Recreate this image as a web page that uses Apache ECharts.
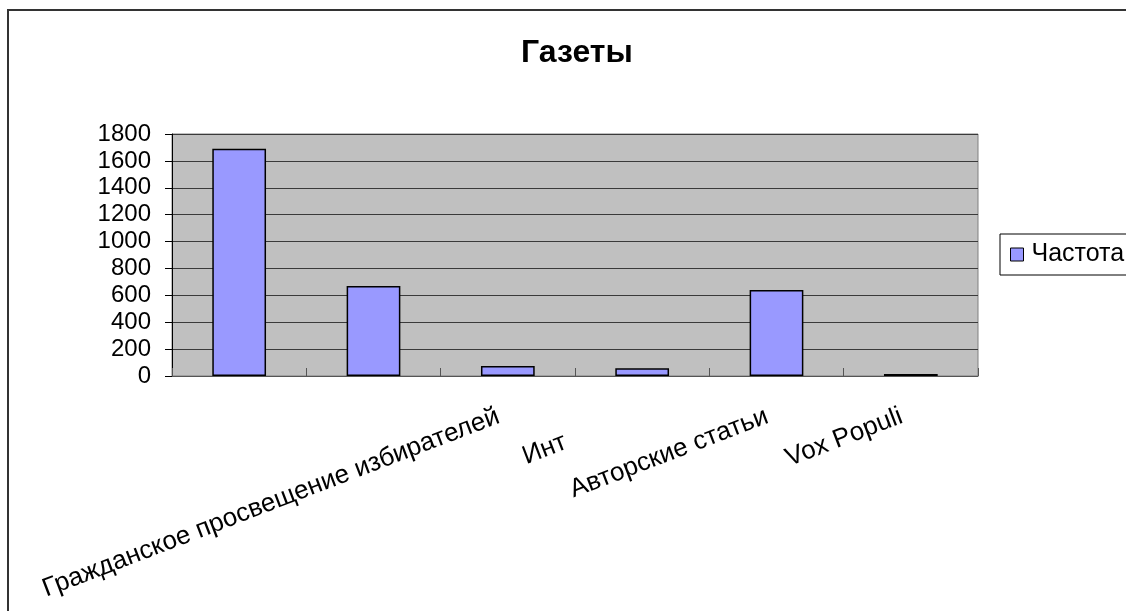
<!DOCTYPE html>
<html>
<head>
<meta charset="utf-8">
<script src="https://cdn.jsdelivr.net/npm/echarts@6/dist/echarts.min.js"></script>
<style>
  html, body { margin: 0; padding: 0; background: #fff; }
  #chart { width: 1126px; height: 611px; }
</style>
</head>
<body>
<div id="chart"></div>
<script>
// Newspaper rubrics and how often each appears
const categories = ['', '', 'Гражданское просвещение избирателей', 'Инт', 'Авторские статьи', 'Vox Populi'];
const frequency = [1690, 670, 75, 58, 640, 15];
const seriesName = 'Частота';
const chartTitle = 'Газеты';
const yTicks = { min: 0, max: 1800, step: 200 };

const FONT = '"Liberation Sans", Arial, sans-serif';

const chart = echarts.init(document.getElementById('chart'), null, { renderer: 'canvas' });

chart.setOption({
  animation: false,
  backgroundColor: '#ffffff',
  textStyle: { fontFamily: FONT },
  graphic: [{
    type: 'rect',
    z: -1,
    shape: { x: 8, y: 10, width: 1300, height: 800 },
    style: { fill: 'none', stroke: '#333333', lineWidth: 2 }
  }],
  title: {
    text: chartTitle,
    left: 516,
    top: 32,
    textStyle: { fontFamily: FONT, fontSize: 32, fontWeight: 'bold', color: '#000' }
  },
  legend: {
    data: [seriesName],
    left: 1000,
    top: 234,
    orient: 'vertical',
    icon: 'rect',
    itemWidth: 13,
    itemHeight: 13,
    padding: [8, 40, 8, 10],
    backgroundColor: '#ffffff',
    borderColor: '#000000',
    borderWidth: 1,
    borderRadius: 0,
    itemStyle: { borderColor: '#000', borderWidth: 1 },
    textStyle: { fontFamily: FONT, fontSize: 25, color: '#000', lineHeight: 25, padding: [0, 0, 0, 3] }
  },
  grid: {
    left: 172,
    right: 148,
    top: 134,
    bottom: 235,
    show: true,
    backgroundColor: '#C0C0C0',
    borderColor: '#808080',
    borderWidth: 1
  },
  xAxis: {
    type: 'category',
    data: categories,
    axisLine: { show: true, lineStyle: { color: '#555555', width: 1 } },
    axisTick: { show: true, inside: true, length: 8, lineStyle: { color: '#555555' } },
    axisLabel: {
      interval: 0,
      rotate: 21,
      margin: 36,
      color: '#000',
      fontFamily: FONT,
      fontSize: 26,
      formatter: function (v) { return v === 'Инт' ? '{short|' + v + '}' : '{norm|' + v + '}'; },
      rich: {
        norm: { fontFamily: FONT, fontSize: 26, color: '#000', padding: [0, 10, 0, 0] },
        short: { fontFamily: FONT, fontSize: 26, color: '#000', padding: [0, 82, 0, 0] }
      }
    },
    splitLine: { show: false }
  },
  yAxis: {
    type: 'value',
    min: yTicks.min,
    max: yTicks.max,
    interval: yTicks.step,
    axisLine: { show: true, lineStyle: { color: '#000', width: 1 } },
    axisTick: { show: true, length: 7, lineStyle: { color: '#000' } },
    axisLabel: {
      color: '#000', fontFamily: FONT, fontSize: 24, margin: 21,
      formatter: function (v) { return String(v); }
    },
    splitLine: { show: true, lineStyle: { color: '#3a3a3a', width: 1 } }
  },
  series: [{
    name: seriesName,
    type: 'bar',
    data: frequency,
    barCategoryGap: '60%',
    itemStyle: { color: '#9999FF', borderColor: '#000000', borderWidth: 1.5 }
  }]
});
</script>
</body>
</html>
